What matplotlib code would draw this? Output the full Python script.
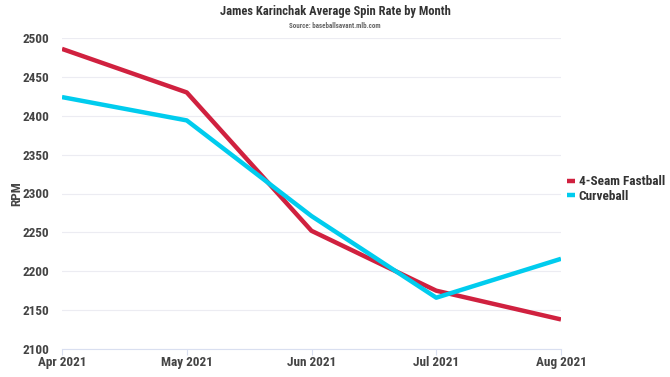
import matplotlib
matplotlib.use("Agg")
import matplotlib.pyplot as plt
from matplotlib import font_manager as fm

months = ["Apr 2021", "May 2021", "Jun 2021", "Jul 2021", "Aug 2021"]
fastball = [2486, 2430, 2252, 2175, 2138]
curveball = [2424, 2394, 2271, 2166, 2216]
yticks = [2100, 2150, 2200, 2250, 2300, 2350, 2400, 2450, 2500]

names = {f.name for f in fm.fontManager.ttflist}
fam = "Roboto"
for cand in ["Roboto Condensed", "Barlow Semi Condensed", "Asap Condensed", "Archivo Narrow", "Liberation Sans Narrow"]:
    if cand in names:
        fam = cand
        break
condensed = fam != "Roboto"
scale = 1.0 if condensed else 0.8
plt.rcParams['font.family'] = [fam, 'DejaVu Sans']

fs = 9.5 * scale
fig = plt.figure(figsize=(6.7, 3.77), dpi=100)
ax = fig.add_axes([62/670, 1 - 349/377, (561-62)/670, (349-38)/377])
x = list(range(len(months)))
ax.plot(x, fastball, color="#d0213f", lw=3.2, label="4-Seam Fastball", solid_capstyle="butt")
ax.plot(x, curveball, color="#00ccee", lw=3.2, label="Curveball", solid_capstyle="butt")
ax.set_xlim(0, 4)
ax.set_ylim(2100, 2500)
ax.set_yticks(yticks)
ax.set_xticks(x)
ax.set_xticklabels(months)
ax.grid(axis="y", color="#ececf2", lw=0.8)
ax.set_axisbelow(True)
for s in ["top", "right", "left"]:
    ax.spines[s].set_visible(False)
ax.spines["bottom"].set_color("#d9dff0")
ax.spines["bottom"].set_linewidth(0.8)
ax.tick_params(axis="y", length=0, pad=9, labelsize=fs, labelcolor="#444444")
ax.tick_params(axis="x", length=4, color="#d9dff0", pad=1, labelsize=fs, labelcolor="#444444")
for t in ax.get_xticklabels() + ax.get_yticklabels():
    t.set_fontweight("bold")
ax.set_ylabel("RPM", fontsize=fs, fontweight="bold", color="#444444")
ax.yaxis.set_label_coords(-39/499, 0.5)
for sp in ax.spines.values():
    sp.set_clip_on(False)
fig.text(0.5, 1 - 12/377, "James Karinchak Average Spin Rate by Month", ha="center", va="center",
         fontsize=9 * scale, fontweight="bold", color="#333333")
fig.text(0.5, 1 - 26/377, "Source: baseballsavant.mlb.com", ha="center", va="center",
         fontsize=5 * scale, fontweight="bold", color="#666666")
leg = fig.legend(*ax.get_legend_handles_labels(), loc="center left", bbox_to_anchor=(564/670, 1 - 189/377),
                 frameon=False, fontsize=fs, handlelength=0.6, handletextpad=0.3, labelspacing=0.1,
                 borderaxespad=0, borderpad=0.2)
for t in leg.get_texts():
    t.set_fontweight("bold")
    t.set_color("#333333")
fig.savefig("out.png", dpi=100)
